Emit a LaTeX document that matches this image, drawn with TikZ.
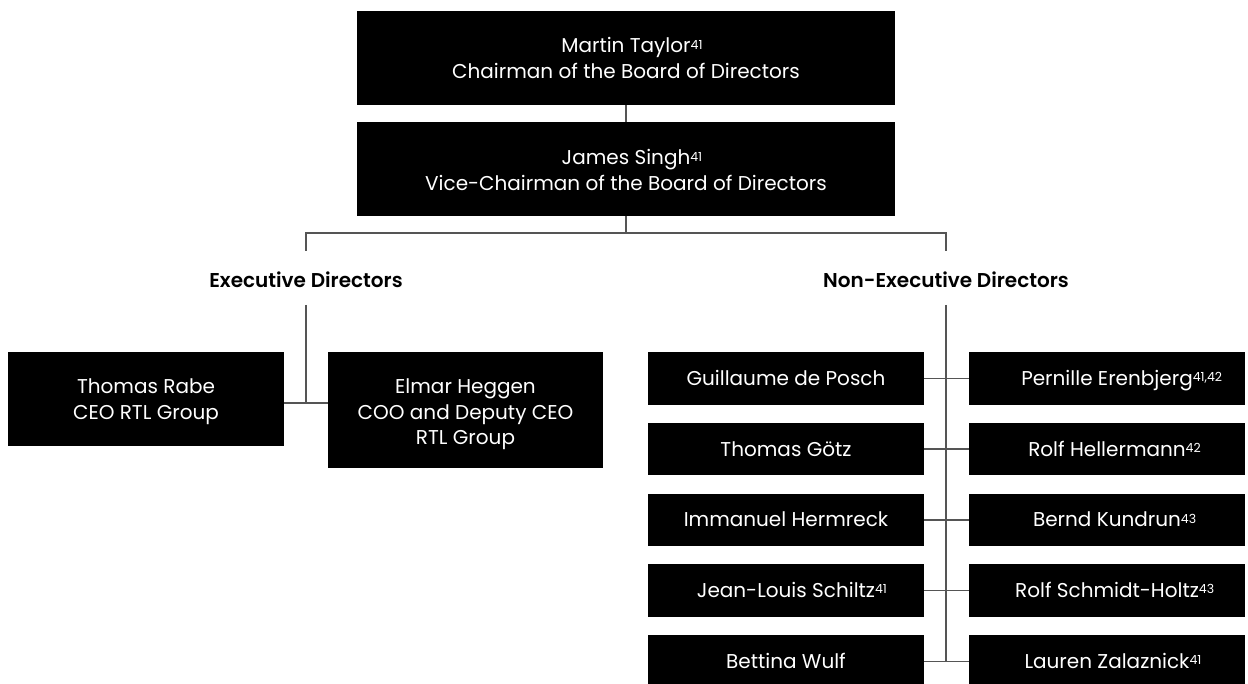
\documentclass[tikz,border=0pt]{standalone}
\usepackage{fontspec}
\setmainfont{Poppins}[BoldFont={Poppins SemiBold}]
\newcommand\supnum[1]{\rlap{\raisebox{3.8pt}{\fontsize{12.5}{12.5}\selectfont #1}}}
\newcommand\bodyfont{\fontsize{20}{25.5}\selectfont}
\definecolor{linegray}{RGB}{85,85,85}
\begin{document}
\begin{tikzpicture}[x=1pt,y=-1pt]
\tikzset{
  box/.style={fill=black, draw=none, inner sep=0pt, minimum width=276pt, minimum height=52.5pt, anchor=center},
  txt/.style={text=white, font=\bodyfont, inner sep=0pt, anchor=base},
  head/.style={font=\bodyfont\bfseries, inner sep=0pt, anchor=base},
  conn/.style={draw=linegray, line width=1.3pt}
}
\useasboundingbox (0,0) rectangle (1248,684);
\clip (0,0) rectangle (1248,684);

% top boxes
\node[box, minimum width=538pt, minimum height=94pt] (mt) at (626,58) {};
\node[box, minimum width=538pt, minimum height=94pt] (js) at (626,169) {};
\node[txt] (mtt) at (626,53) {\begin{tabular}[t]{@{}c@{}}Martin Taylor\supnum{41}\\Chairman of the Board of Directors\end{tabular}};
\node[txt] (jst) at (626,165) {\begin{tabular}[t]{@{}c@{}}James Singh\supnum{41}\\Vice-Chairman of the Board of Directors\end{tabular}};

% headings
\node[head] (exh) at (306,288) {Executive Directors};
\node[head] (neh) at (946,288) {Non-Executive Directors};

% executive boxes
\node[box, minimum width=276pt, minimum height=94pt] (rabe) at (146,399) {};
\node[box, minimum width=275pt, minimum height=116pt] (elmar) at (465.5,410) {};
\node[txt] (rabet) at (146,394) {\begin{tabular}[t]{@{}c@{}}Thomas Rabe\\CEO RTL Group\end{tabular}};
\node[txt] (elmart) at (465.5,394) {\begin{tabular}[t]{@{}c@{}}Elmar Heggen\\COO and Deputy CEO\\RTL Group\end{tabular}};

% non-executive boxes
\foreach \i/\l/\r in {
  0/{Guillaume de Posch}/{Pernille Erenbjerg\supnum{41,42}},
  1/{Thomas Götz}/{Rolf Hellermann\supnum{42}},
  2/{Immanuel Hermreck}/{Bernd Kundrun\supnum{43}},
  3/{Jean-Louis Schiltz\supnum{41}}/{Rolf Schmidt-Holtz\supnum{43}},
  4/{Bettina Wulf}/{Lauren Zalaznick\supnum{41}}}{
  \pgfmathsetmacro\yc{378.3+70.8*\i}
  \node[box] (l\i) at (786,\yc) {};
  \node[box] (r\i) at (1107,\yc) {};
  \node[txt] (lt\i) at (786,\yc+7) {\l};
  \node[txt] (rt\i) at (1107,\yc+7) {\r};
  \draw[conn] (l\i.east) -- (r\i.west);
}

% connectors
\coordinate (ea) at (306,233);
\coordinate (na) at (946,233);
\coordinate (eb) at (306,251);
\coordinate (nb) at (946,251);
\coordinate (etop) at (306,305);
\coordinate (ej) at (306,403);
\coordinate (ntop) at (946,305);
\draw[conn] (mt.south) -- (js.north);
\draw[conn] (js.south) -- (js.south |- ea);
\draw[conn] (eb) -- (ea) -- (na) -- (nb);
\draw[conn] (etop) -- (ej);
\draw[conn] (rabe.east |- ej) -- (elmar.west |- ej);
\draw[conn] (ntop) -- (ntop |- r4.west);
\end{tikzpicture}
\end{document}
